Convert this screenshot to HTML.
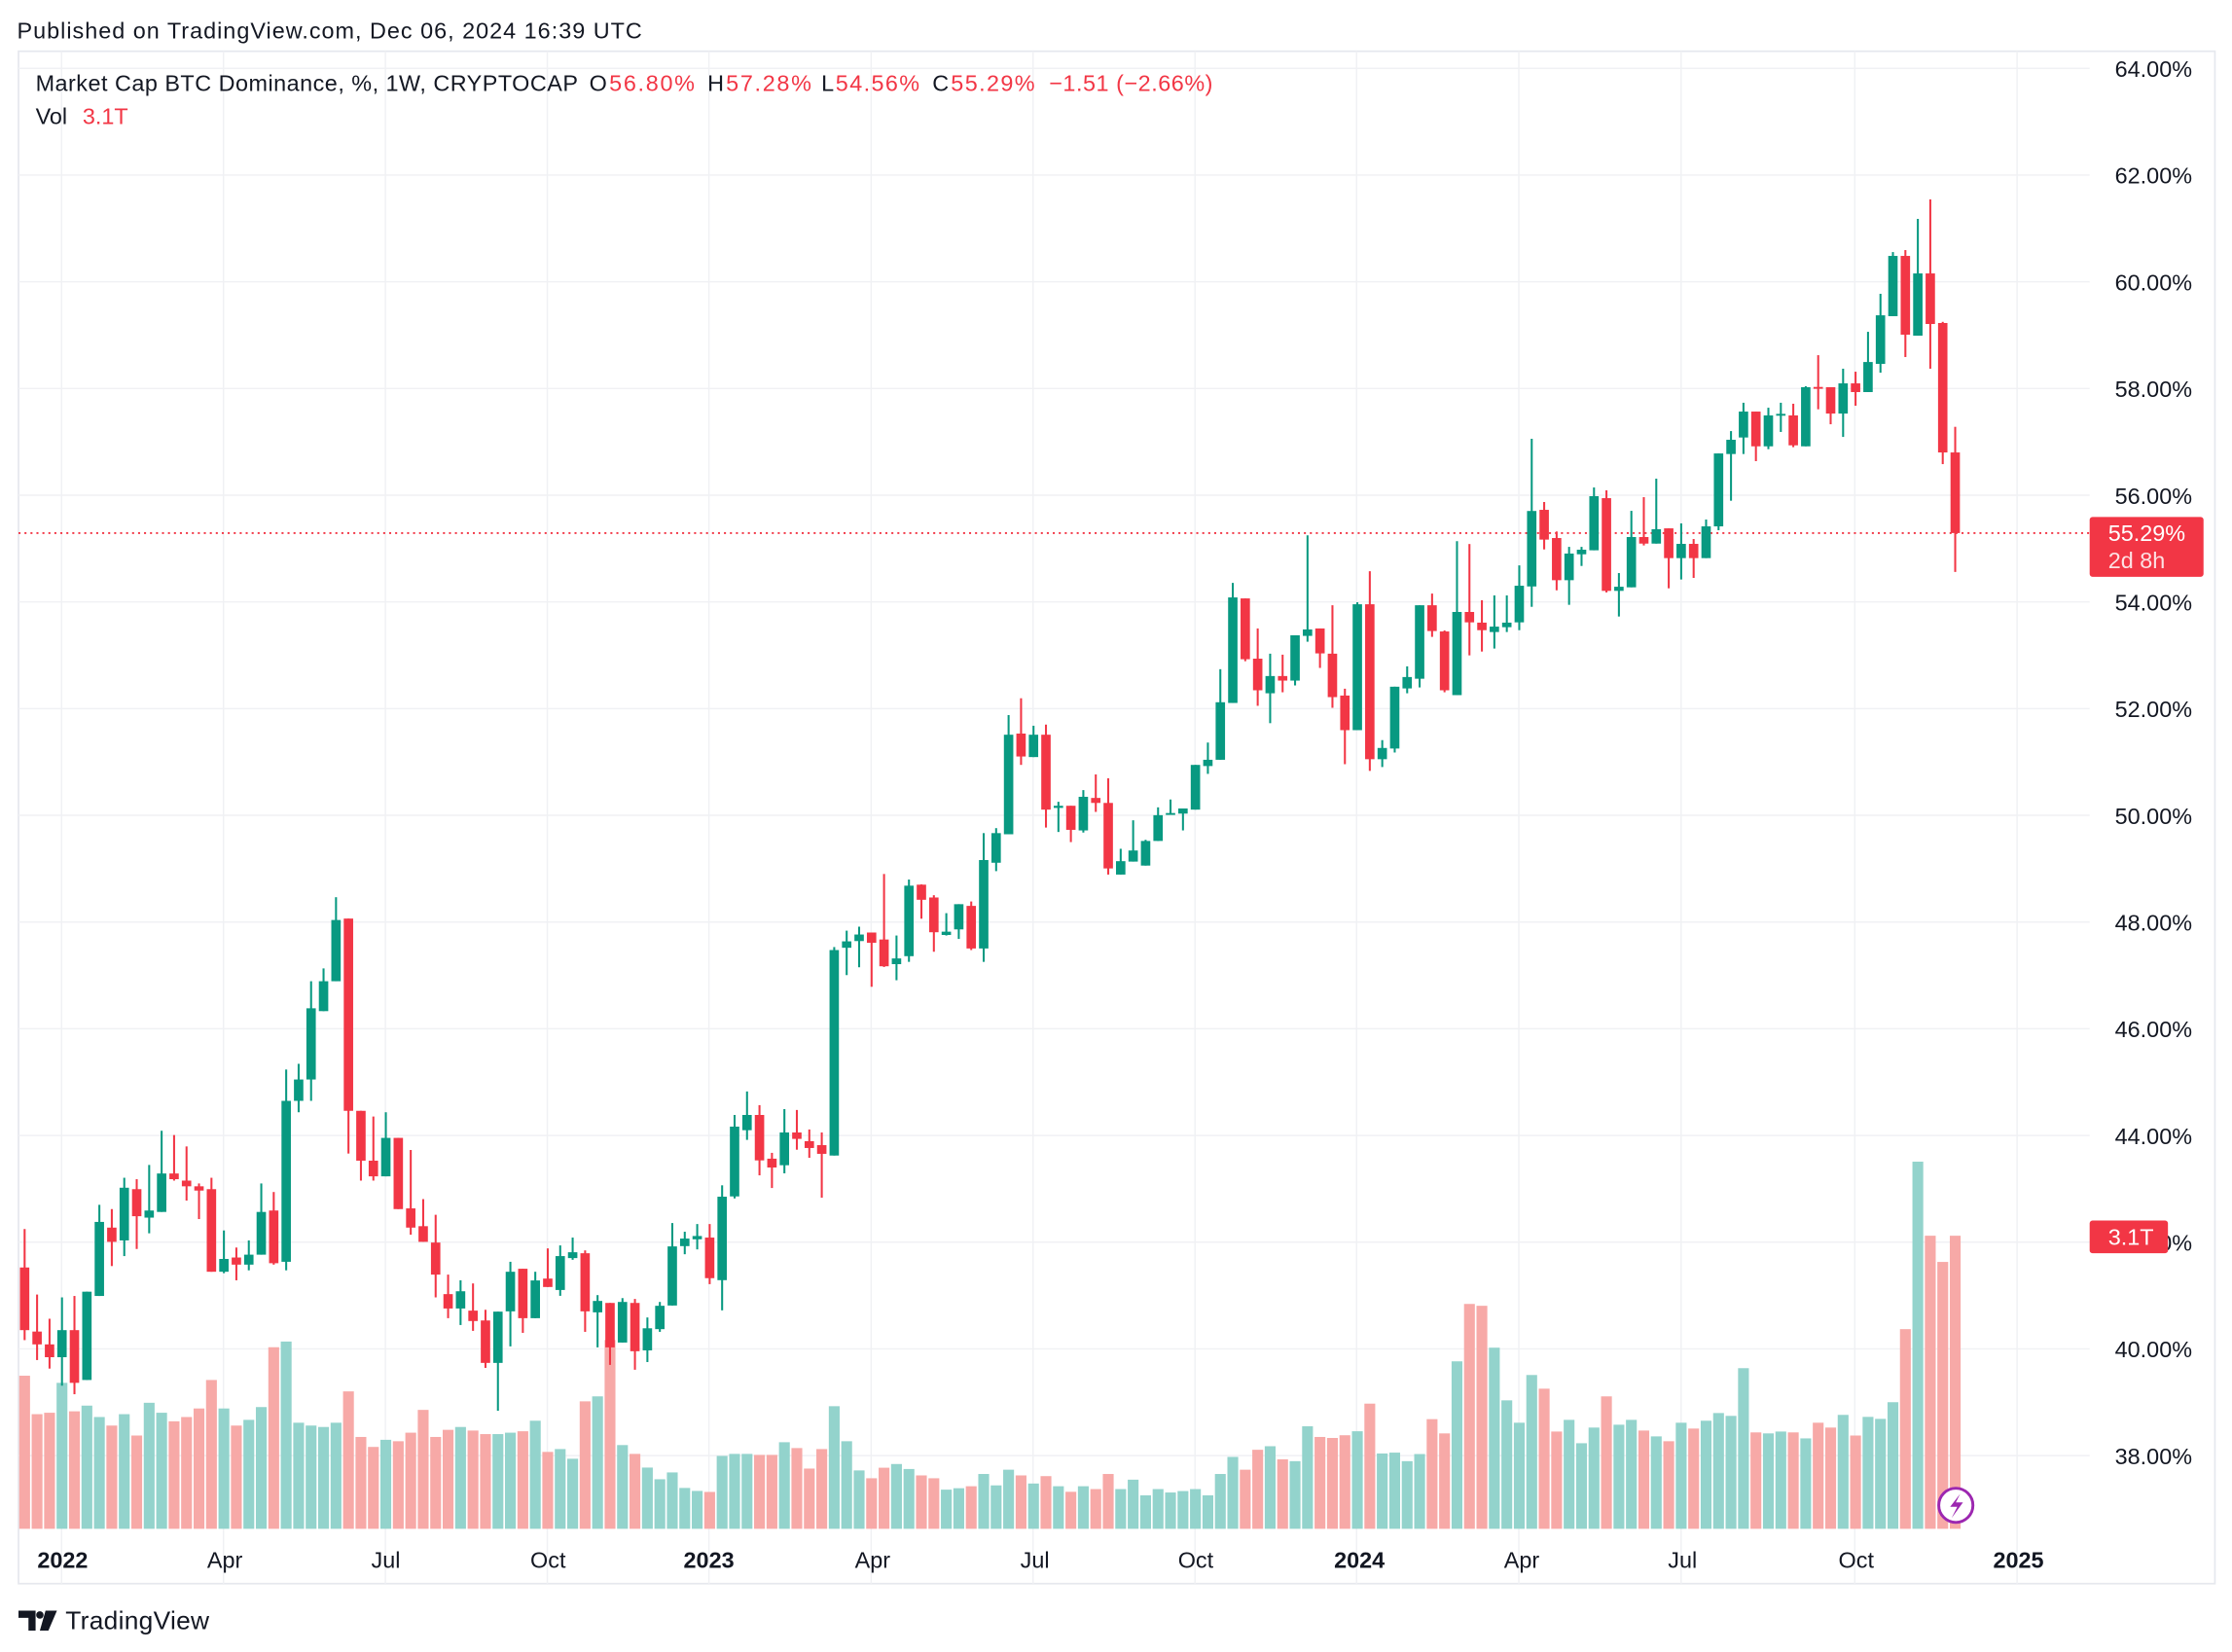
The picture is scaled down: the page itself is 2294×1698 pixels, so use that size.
<!DOCTYPE html>
<html><head><meta charset="utf-8">
<style>
html,body{margin:0;padding:0;background:#fff;}
svg{display:block;}
text{font-family:"Liberation Sans",Arial,sans-serif;}
</style></head>
<body>
<svg id="c" xmlns="http://www.w3.org/2000/svg" width="2294" height="1698" viewBox="0 0 1568 1160" preserveAspectRatio="none">
<rect x="0" y="0" width="1568" height="1160" fill="#fff"/>
<rect x="13" y="36" width="1543" height="1076" fill="none" stroke="#e6e8ee" stroke-width="1.2"/>
<g id="grid" stroke="#f0f1f4" stroke-width="1"></g>
<g id="vol"></g>
<line x1="13" y1="374.3" x2="1468" y2="374.3" stroke="#f23645" stroke-width="1.3" stroke-dasharray="1.4,2.8"/>
<g id="cand"></g>
<text x="12" y="27" font-size="16" fill="#131722" textLength="439">Published on TradingView.com, Dec 06, 2024 16:39 UTC</text>
<g font-size="16">
<text x="25" y="64" fill="#131722" textLength="381">Market Cap BTC Dominance, %, 1W, CRYPTOCAP</text>
<text x="414" y="64" fill="#131722">O</text><text x="428" y="64" fill="#f23645" textLength="60">56.80%</text>
<text x="497" y="64" fill="#131722">H</text><text x="510" y="64" fill="#f23645" textLength="60">57.28%</text>
<text x="577" y="64" fill="#131722">L</text><text x="587" y="64" fill="#f23645" textLength="59">54.56%</text>
<text x="655" y="64" fill="#131722">C</text><text x="668" y="64" fill="#f23645" textLength="59">55.29%</text>
<text x="737" y="64" fill="#f23645" textLength="115">−1.51 (−2.66%)</text>
<text x="25" y="87" fill="#131722">Vol</text><text x="58" y="87" fill="#f23645">3.1T</text>
</g>
<g id="plab" font-size="16" fill="#131722" text-anchor="end"></g>
<g id="tlab" font-size="16" fill="#131722" text-anchor="middle">
<text x="44" y="1101" font-weight="bold">2022</text>
<text x="158" y="1101">Apr</text>
<text x="271" y="1101">Jul</text>
<text x="385" y="1101">Oct</text>
<text x="498" y="1101" font-weight="bold">2023</text>
<text x="613" y="1101">Apr</text>
<text x="727" y="1101">Jul</text>
<text x="840" y="1101">Oct</text>
<text x="955" y="1101" font-weight="bold">2024</text>
<text x="1069" y="1101">Apr</text>
<text x="1182" y="1101">Jul</text>
<text x="1304" y="1101">Oct</text>
<text x="1418" y="1101" font-weight="bold">2025</text>
</g>
<rect x="1468" y="363" width="80" height="42" rx="2" fill="#f23645"/>
<text x="1481" y="380" font-size="16" fill="#fff">55.29%</text>
<text x="1481" y="399" font-size="16" fill="#fff" fill-opacity="0.85">2d 8h</text>
<rect x="1468" y="857" width="55" height="23" rx="2" fill="#f23645"/>
<text x="1481" y="874" font-size="16" fill="#fff">3.1T</text>
<circle cx="1374" cy="1057" r="12" fill="#fff" stroke="#9c27b0" stroke-width="2"/>
<path d="M1377 1049 L1370 1058 L1375 1058 L1371 1066 L1379 1055 L1374 1055 Z" fill="#9c27b0"/>
<g fill="#131722">
<path d="M13 1131 H25 V1145 H20 V1136 H13 Z"/>
<circle cx="28" cy="1134" r="2.6"/>
<path d="M32 1131 H40 L34 1145 H28 Z"/>
</g>
<text x="46" y="1144" font-size="18" fill="#131722" textLength="101">TradingView</text>
</svg>
<script>
(function(){
var NS="http://www.w3.org/2000/svg";
function el(p,t,a){var e=document.createElementNS(NS,t);for(var k in a)e.setAttribute(k,a[k]);p.appendChild(e);return e;}
var grid=document.getElementById("grid"),plab=document.getElementById("plab");
for(var k=0;k<14;k++){var y=48+k*74.93;el(grid,"line",{x1:13,y1:y,x2:1468,y2:y});
 var t=el(plab,"text",{x:1540,y:y+6});t.textContent=(64-2*k).toFixed(2)+"%";}
var vx=[43.25,157,270.75,384.5,498,612,725.75,839.5,953,1067,1181,1303,1417];
vx.forEach(function(x){el(grid,"line",{x1:x,y1:36,x2:x,y2:1112});});
var D=[[890,934,863,941,966],[935,944,909,955,993],[944,953,926,961,992],[953,934,911,973,971],[934,971,910,979,991],[969,907,907,969,987],[910,858,846,910,995],[862,872,849,889,1001],[871,834,827,882,993],[835,854,828,877,1008],[855,850,818,866,985],[851,824,794,851,992],[824,828,797,829,998],[829,833,805,843,995],[833,836,831,856,989],[835,893,827,893,969],[893,884,864,894,989],[883,888,876,899,1001],[888,881,871,892,997],[881,851,831,881,988],[850,887,837,888,946],[886,773,751,892,942],[773,758,747,781,999],[758,708,689,773,1001],[710,689,680,710,1002],[689,646,630,689,999],[645,780,645,810,977],[780,815,780,829,1009],[815,826,784,829,1016],[826,799,781,826,1011],[799,849,799,849,1012],[848.5,862,807.5,867,1006],[861,872,842,872,990],[872.5,895,853,911,1009],[908.7,918.8,895,925.6,1004],[918.8,906.7,899,930.4,1002],[920.3,927.6,901.2,934.5,1004.5],[927.2,957,919.7,960.5,1007],[957,921,921,990.6,1007],[920.8,893,886,945.4,1006],[890.9,925.6,890.9,935.9,1005],[925.6,899.1,893,925.6,997.6],[897.8,903.7,876.6,903.7,1019.5],[905.8,882,874.5,909.9,1017.5],[883.4,879.3,869,884.6,1024.3],[880,920.8,878,935.2,984],[921.5,913.5,909.4,946.1,980.5],[914.9,946.1,914.9,958.4,940.9],[942.7,914.2,911.5,942.7,1014.7],[914.9,948.8,912.1,961.8,1020.9],[948.2,932.7,925.1,956.4,1030.5],[933.3,916.9,914.2,935.2,1038.7],[916.7,875.2,858.8,916.7,1033.9],[875,869.7,864.9,880.7,1044.8],[870.2,867.9,859.5,877.3,1046.9],[869,897.5,859.5,901.7,1047.6],[898.9,840.3,832.3,920.1,1022.3],[840.1,791.1,782.9,841.5,1020.9],[793.6,782.9,766.4,800.4,1020.9],[782.9,814.8,776,825.3,1021.6],[813.6,819.8,809.5,834.2,1021.6],[818.2,795.2,778.8,823.9,1012.7],[795.2,799.7,779.4,807.3,1016.8],[801.3,806.1,793.1,813,1031.2],[804.1,810.2,795.2,841,1017.5],[811.4,667.1,665,811.4,987.4],[665.5,661,653.5,684.7,1012],[660.8,656.2,650.7,679.2,1032.5],[654.8,662,654.8,692.9,1038],[659.7,678.5,613.7,679,1030.6],[677,673,656.9,688.3,1028],[671.4,621.9,617.6,675.4,1031.5],[621.2,631.8,621,645.1,1036],[630.2,654.6,628.6,668.3,1038],[656.5,654.2,641.2,656.9,1046],[652.6,634.9,634.9,659.3,1045],[636.1,666,633,667.1,1043.6],[666,603.9,585,675.4,1035],[605.8,585,581.5,611.7,1043],[585.8,515.9,502.1,585.8,1032],[515.1,531.2,490.3,537.1,1036],[531.6,515.9,509.6,531.6,1041.7],[515.9,568.5,508.8,581.1,1036.5],[567.3,565.8,563,584.2,1043.6],[565.8,582.7,565.8,591.3,1047.5],[583.1,559.5,554.8,584.6,1043.6],[560.3,563.8,543.8,570.1,1045.6],[563.8,609.8,546.5,614.1,1035],[614.1,604.7,596,614.1,1045.6],[605,597.2,576,605,1039],[607.8,590.5,589.7,607.8,1050],[590.5,572.4,566.9,590.5,1045.6],[571.7,570.9,561.4,572,1048],[571.3,567.7,567.7,583.1,1047],[568.5,537.1,537.1,568.5,1045.6],[537.9,533.5,521.4,543.4,1050],[533.5,493.1,469.9,533.5,1035],[493.6,419.5,409.3,493.6,1023],[420.2,462.9,420.2,464.3,1032],[462.5,484.7,441.3,495.6,1018],[486.8,474.7,459,507.8,1015.5],[474.7,477.9,459.7,486.1,1024.7],[477.9,446.1,446.1,481.3,1026],[446.5,442,375.9,450.6,1001.5],[441.3,458.8,441.3,469,1009],[459,489.5,425,497,1009.7],[488.4,512.7,483.6,536.6,1007.8],[512.7,424.3,422.9,512.7,1005],[424.3,533.1,401.1,541.3,985.6],[533.1,525.2,519.7,538.6,1020.6],[525.6,482.2,482.2,528.4,1020],[483.4,475.4,467.9,486.8,1026],[476.6,425,425,482.7,1021],[425,443.1,416.8,447.2,996.5],[443.4,484.7,442.7,486.1,1006.5],[488.1,429.7,380,488.1,955.9],[429.7,437,382,460.2,915.6],[437.2,442.5,421.5,457.5,916.9],[443.8,440,418.1,455.4,946.3],[440.4,437.2,418.1,443.8,983.3],[437,411.3,397,442.5,999],[411.8,358.8,308.1,426.1,965.5],[358,378.9,352.5,385.8,975.1],[377.8,407.4,373.2,414.5,1005.2],[407.4,388.7,384,424.7,997],[389.2,386,384,397.4,1013.4],[386.4,348.4,342.3,386.4,1002.4],[349.8,414.9,344.3,416,980.5],[414.9,412,402.4,432.9,1000.4],[412.4,377.1,358.7,412.4,997],[377.1,381.7,349.1,383,1004.5],[381.7,371.6,336.1,381.7,1008.6],[371,391.9,371,413.1,1012],[391.9,381.9,367.5,406.9,999],[381.9,391.9,378.5,405.8,1003.1],[391.9,369.6,364.8,391.9,997.6],[369.6,318.4,318.4,372.3,992.2],[318.8,308.8,302.7,351.6,994.2],[307.2,289,282.8,318.8,960.7],[289,313.4,289,323.8,1005.8],[313.4,291.7,286.3,315.4,1006.5],[291,290.6,282.8,303.3,1005.2],[291.7,312.7,283.5,314,1005.8],[313.4,271.9,271.2,313.4,1010],[271.7,272,249.4,287.4,999],[271.9,290.4,271.9,297.9,1002.4],[290.4,269.2,258.9,306.8,993.5],[269.2,275.3,261,284.9,1008],[275.3,254.2,233,275.3,994.9],[255.5,221.4,206.3,261.7,996.3],[222,179.7,177,222,984.6],[179.7,235,175.6,250.7,933.3],[235.7,192,153.7,235.7,815.7],[192,227.5,140,258.9,867.7],[226.8,317.7,226,325.9,886.1],[317.7,374.3,299.7,401.6,867.7]];
var vol=document.getElementById("vol"),cand=document.getElementById("cand");
D.forEach(function(d,i){
 var x=17.3+i*8.75,up=d[1]<=d[0]&&!(d[1]==d[0]);
 if(d[1]<d[0])up=true;else up=false;
 var col=up?"#089981":"#f23645",vc=up?"#93d3cc":"#f7a9a7";
 el(vol,"rect",{x:(x-3.8).toFixed(2),y:d[4],width:7.6,height:(1073.5-d[4]).toFixed(2),fill:vc});
 el(cand,"rect",{x:(x-0.7).toFixed(2),y:d[2],width:1.4,height:Math.max(0.5,d[3]-d[2]).toFixed(2),fill:col});
 var t=Math.min(d[0],d[1]),b=Math.max(d[0],d[1]);
 el(cand,"rect",{x:(x-3.3).toFixed(2),y:t,width:6.6,height:Math.max(1.3,b-t).toFixed(2),fill:col});
});
var g=el(plab,"text",{x:1540,y:878});
})();
</script>
</body></html>
